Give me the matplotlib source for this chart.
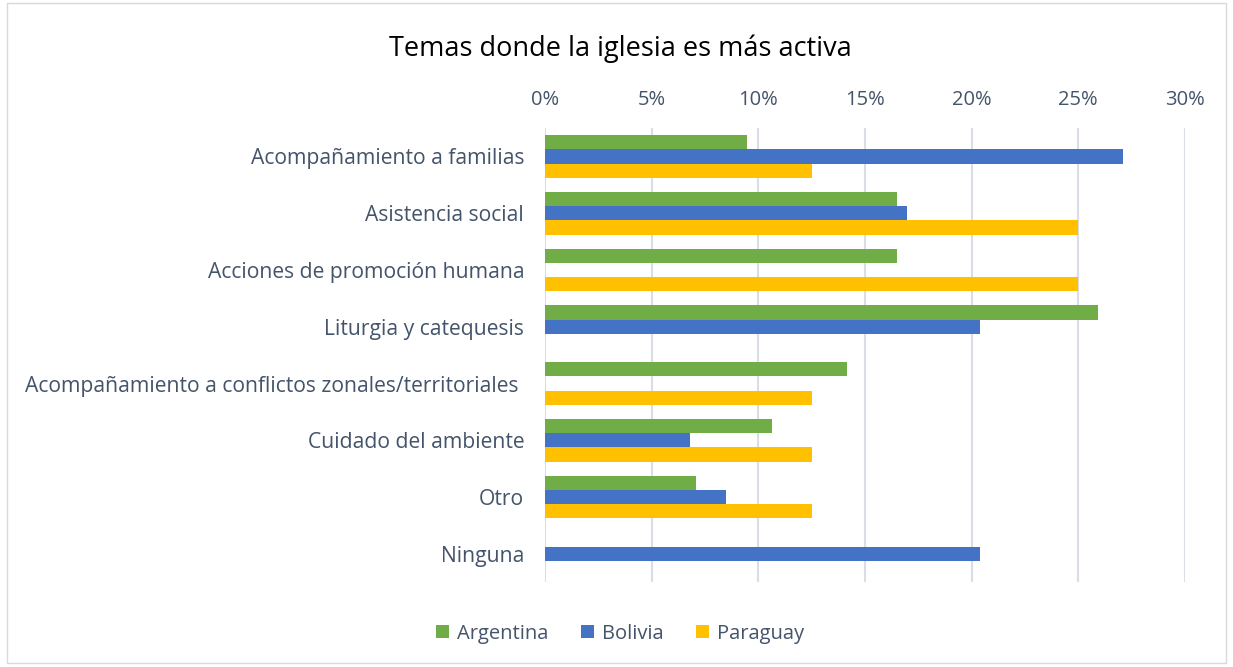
import numpy as np
import matplotlib.pyplot as plt
from matplotlib.patches import Rectangle
from matplotlib.ticker import FuncFormatter

plt.rcParams['font.family'] = ['Open Sans', 'DejaVu Sans']

categories = ['Acompañamiento a familias', 'Asistencia social',
              'Acciones de promoción humana', 'Liturgia y catequesis',
              'Acompañamiento a conflictos zonales/territoriales ',
              'Cuidado del ambiente', 'Otro', 'Ninguna']
argentina = [9.46, 16.5, 16.5, 25.94, 14.16, 10.65, 7.08, 0]
bolivia = [27.1, 16.97, 0, 20.4, 0, 6.8, 8.5, 20.4]
paraguay = [12.5, 25.0, 25.0, 0, 12.5, 12.5, 12.5, 0]
series = ['Argentina', 'Bolivia', 'Paraguay']
colors = ['#70AD47', '#4472C4', '#FFC000']

fig = plt.figure(figsize=[12.33, 6.67], dpi=100)
ax = fig.add_axes([0.442, 0.127, 0.519, 0.681])

y = np.arange(len(categories))
h = 0.25
for i, (vals, name, c) in enumerate(zip([argentina, bolivia, paraguay], series, colors)):
    ax.barh(y + (i - 1) * h, vals, height=h, color=c, label=name, zorder=3)

ax.set_ylim(len(categories) - 0.5, -0.5)
ax.set_xlim(0, 30)
ax.set_xticks(np.arange(0, 31, 5))
ax.xaxis.set_major_formatter(FuncFormatter(lambda v, p: f'{v:.0f}%'))
ax.xaxis.tick_top()
ax.set_yticks(y)
ax.set_yticklabels(categories)
ax.tick_params(axis='both', length=0, labelsize=14.5, colors='#44546A')
ax.tick_params(axis='y', pad=15, labelsize=15.2)
ax.tick_params(axis='x', pad=13)
ax.grid(axis='x', color='#D9DDE5', linewidth=1.5, zorder=0)
for s in ax.spines.values():
    s.set_visible(False)

fig.suptitle('Temas donde la iglesia es más activa', x=0.503, y=0.948,
             fontsize=19.5, color='#000000')

fig.legend(loc='center', bbox_to_anchor=(0.503, 0.05), ncol=3, frameon=False,
           fontsize=14.5, handlelength=0.65, handleheight=0.65, columnspacing=1.6,
           handletextpad=0.4, labelcolor='#44546A')

fig.patches.append(Rectangle((0.006, 0.006), 0.988, 0.99, transform=fig.transFigure,
                             fill=False, edgecolor='#D9D9D9', linewidth=1))

plt.savefig('out.png', format='png')
